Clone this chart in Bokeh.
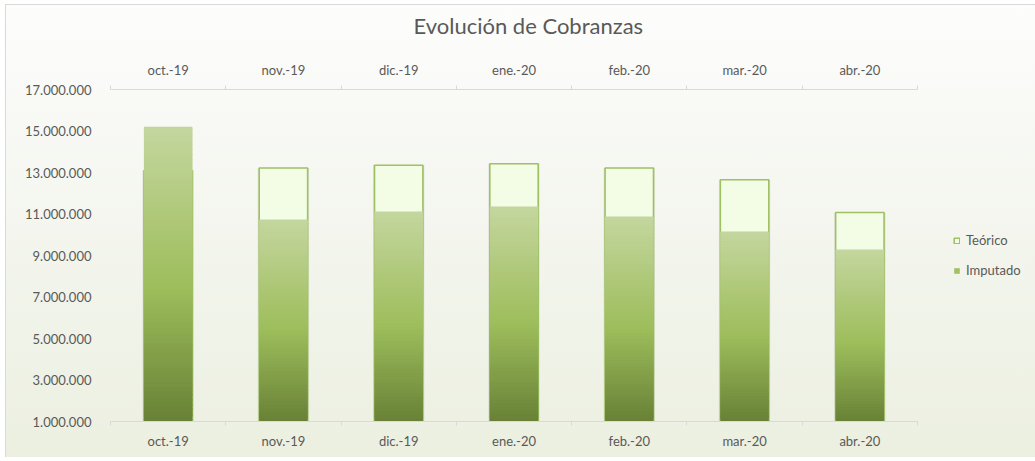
from bokeh.plotting import figure
from bokeh.models import (Range1d, LinearAxis, FixedTicker, ColumnDataSource,
                          Legend, LegendItem)
from bokeh.embed import file_html
from bokeh.resources import INLINE

# ---------------- data ----------------
categories = ["oct.-19", "nov.-19", "dic.-19", "ene.-20", "feb.-20", "mar.-20", "abr.-20"]
teorico = [13_100_000, 13_220_000, 13_350_000, 13_420_000, 13_220_000, 12_650_000, 11_070_000]
imputado = [15_200_000, 10_730_000, 11_120_000, 11_360_000, 10_880_000, 10_160_000, 9_290_000]
y_ticks = [1_000_000, 3_000_000, 5_000_000, 7_000_000, 9_000_000,
           11_000_000, 13_000_000, 15_000_000, 17_000_000]
y_min, y_max = 1_000_000, 17_000_000
title_text = "Evolución de Cobranzas"

# ---------------- style ----------------
FONT = "Lato"
TXT = "#595959"
AXIS = "#d9d9d9"
BAR_W = 0.42
STOPS = [(0.0, (104, 129, 54)), (0.45, (157, 189, 91)), (1.0, (196, 214, 158))]
N_SLICES = 60


def grad(t):
    for (t0, c0), (t1, c1) in zip(STOPS[:-1], STOPS[1:]):
        if t <= t1:
            f = (t - t0) / (t1 - t0)
            r, g, b = (round(a + (bb - a) * f) for a, bb in zip(c0, c1))
            return "#%02x%02x%02x" % (r, g, b)
    return "#%02x%02x%02x" % STOPS[-1][1]


x_centers = [i + 0.5 for i in range(len(categories))]

p = figure(frame_width=807, frame_height=332, output_backend="svg", toolbar_location=None,
           x_range=Range1d(0, len(categories)), y_range=Range1d(y_min, y_max),
           min_border_left=105, min_border_right=117, min_border_top=103,
           min_border_bottom=36, x_axis_location=None, y_axis_location="left")

p.border_fill_alpha = 0
p.background_fill_alpha = 0
p.outline_line_color = None
p.xgrid.visible = False
p.ygrid.visible = False
p.styles = {
    "background": ("linear-gradient(#d9d9d9, #d9d9d9) 0 18px / 1px 100% no-repeat, "
                   "linear-gradient(#d9d9d9, #d9d9d9) 0 18px / 100% 1px no-repeat, "
                   "linear-gradient(to bottom, #fdfdfc 0%, #f4f6ef 45%, #ebefdf 100%) "
                   "0 18px / 100% 100% no-repeat"),
    "margin-left": "5px", "margin-top": "-14px"}

# title
p.title.text = title_text
p.title.align = "left"
p.title.offset = 303
p.title.text_font = FONT
p.title.text_font_size = "22px"
p.title.text_font_style = "normal"
p.title.text_color = TXT
p.title.standoff = 40

# y axis
yax = p.yaxis[0]
yax.ticker = FixedTicker(ticks=y_ticks)
yax.major_label_overrides = {t: f"{t:,}".replace(",", ".") for t in y_ticks}
yax.axis_line_color = None
yax.major_tick_line_color = None
yax.minor_tick_line_color = None
yax.major_tick_out = 0
yax.major_label_text_font = FONT
yax.major_label_text_font_size = "13px"
yax.major_label_text_color = TXT
yax.major_label_standoff = 19

# x axes (bottom and top)
bounds = list(range(len(categories) + 1))
for loc, standoff in (("below", 5), ("above", 6)):
    ax = LinearAxis(ticker=FixedTicker(ticks=x_centers, minor_ticks=bounds),
                    major_label_overrides={c: lab for c, lab in zip(x_centers, categories)})
    ax.axis_line_color = AXIS
    ax.major_tick_line_color = None
    ax.minor_tick_line_color = AXIS
    ax.minor_tick_in = 0
    ax.minor_tick_out = 4
    ax.major_label_text_font = FONT
    ax.major_label_text_font_size = "13px"
    ax.major_label_text_color = TXT
    ax.major_label_standoff = standoff
    p.add_layout(ax, loc)

# Teórico bars (behind)
src_t = ColumnDataSource(dict(x=x_centers, top=teorico, bottom=[y_min] * len(teorico)))
p.vbar(x="x", top="top", bottom="bottom", width=BAR_W + 0.025, source=src_t,
       fill_color="#b9bdb0", fill_alpha=0.35, line_color=None)
r_t = p.vbar(x="x", top="top", bottom="bottom", width=BAR_W, source=src_t,
             fill_color="#f3fde6", line_color="#9fc063", line_width=1.6)

# Imputado bars with vertical gradient (slices of each bar's own height)
xs, tops, bots, cols = [], [], [], []
for xc, v in zip(x_centers, imputado):
    h = v - y_min
    for k in range(N_SLICES):
        xs.append(xc)
        bots.append(y_min + h * k / N_SLICES)
        tops.append(min(v, y_min + h * (k + 1.8) / N_SLICES))
        cols.append(grad((k + 0.5) / N_SLICES))
src_i = ColumnDataSource(dict(x=xs, top=tops, bottom=bots, color=cols))
r_i = p.vbar(x="x", top="top", bottom="bottom", width=BAR_W, source=src_i,
             fill_color="color", line_color=None)

legend = Legend(items=[LegendItem(label="Teórico", renderers=[r_t]),
                       LegendItem(label="Imputado", renderers=[r_i], index=N_SLICES // 2)],
                location="center_left", orientation="vertical")
legend.label_text_font = FONT
legend.label_text_font_size = "13px"
legend.label_text_color = TXT
legend.glyph_width = 7
legend.glyph_height = 7
legend.label_standoff = 6
legend.label_height = 20
legend.spacing = 10
legend.padding = 4
legend.margin = 32
legend.background_fill_alpha = 0
legend.border_line_alpha = 0
p.add_layout(legend, "right")

open("out.html", "w").write(file_html(p, INLINE))
